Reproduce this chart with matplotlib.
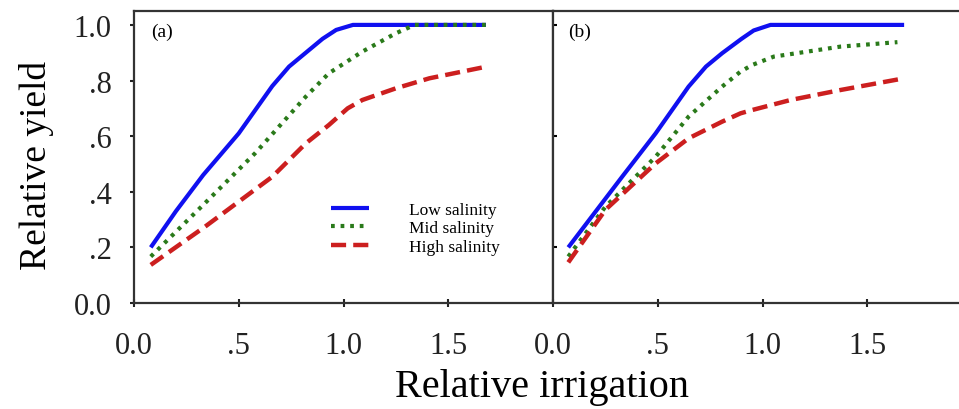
import numpy as np
import matplotlib
matplotlib.use("Agg")
import matplotlib.pyplot as plt
from matplotlib.ticker import FuncFormatter

plt.rcParams['font.family'] = ['Liberation Serif', 'DejaVu Serif']

# panel (a)
a_low_x = [0.08, 0.20, 0.33, 0.50, 0.66, 0.74, 0.82, 0.90, 0.965, 1.045, 1.68]
a_low_y = [0.20, 0.33, 0.46, 0.61, 0.78, 0.85, 0.90, 0.95, 0.982, 1.00, 1.00]
a_mid_x = [0.08, 0.34, 0.58, 0.82, 0.93, 1.09, 1.25, 1.34, 1.68]
a_mid_y = [0.167, 0.36, 0.54, 0.742, 0.826, 0.904, 0.97, 1.00, 1.00]
a_high_x = [0.08, 0.34, 0.66, 0.82, 0.93, 1.02, 1.09, 1.25, 1.41, 1.67]
a_high_y = [0.137, 0.275, 0.454, 0.574, 0.64, 0.70, 0.73, 0.772, 0.808, 0.848]

# panel (b)
b_low_x = [0.073, 0.33, 0.49, 0.647, 0.73, 0.807, 0.90, 0.958, 1.038, 1.676]
b_low_y = [0.20, 0.454, 0.61, 0.778, 0.85, 0.898, 0.95, 0.98, 1.00, 1.00]
b_mid_x = [0.073, 0.25, 0.49, 0.647, 0.807, 0.895, 0.951, 1.054, 1.214, 1.373, 1.644]
b_mid_y = [0.167, 0.346, 0.526, 0.67, 0.778, 0.832, 0.856, 0.886, 0.904, 0.922, 0.938]
b_high_x = [0.073, 0.25, 0.49, 0.647, 0.807, 0.895, 0.951, 1.134, 1.373, 1.676]
b_high_y = [0.146, 0.335, 0.502, 0.592, 0.652, 0.682, 0.694, 0.73, 0.766, 0.808]

labels = ['Low salinity', 'Mid salinity', 'High salinity']
colors = ['#1010f0', '#2a7a1a', '#cc1f1f']

W, H = 959, 410
fig = plt.figure(figsize=(W / 100, H / 100), dpi=100)

def box(l, b, r, t):
    return [l / W, 1 - b / H, (r - l) / W, (b - t) / H]

ax1 = fig.add_axes(box(134, 304, 553, 12))
ax2 = fig.add_axes(box(553, 304, 972, 12))

def yfmt(v, pos):
    s = "%.1f" % v
    if s.startswith("0.") and s != "0.0":
        s = s[1:]
    return s

def draw(ax, lx, ly, mx, my, hx, hy):
    ax.plot(lx, ly, color=colors[0], lw=3, solid_capstyle='butt',
            solid_joinstyle='round', label=labels[0])
    ax.plot(mx, my, color=colors[1], lw=3, dashes=(0.9, 1.4), label=labels[1])
    ax.plot(hx, hy, color=colors[2], lw=3.2, dashes=(3.4, 1.6),
            dash_joinstyle='round', label=labels[2])
    ax.set_xlim(0, 2.0)
    ax.set_ylim(0, 1.05)
    ax.set_xticks([0, 0.5, 1.0, 1.5])
    ax.xaxis.set_major_formatter(FuncFormatter(yfmt))
    ax.tick_params(axis='x', direction='inout', length=6, width=1.5,
                   labelsize=22, pad=17, colors='#222222')
    for s in ax.spines.values():
        s.set_linewidth(1.6)
        s.set_color('#333333')

draw(ax1, a_low_x, a_low_y, a_mid_x, a_mid_y, a_high_x, a_high_y)
draw(ax2, b_low_x, b_low_y, b_mid_x, b_mid_y, b_high_x, b_high_y)

ax1.set_yticks([0, 0.2, 0.4, 0.6, 0.8, 1.0])
ax1.yaxis.set_major_formatter(FuncFormatter(yfmt))
ax1.tick_params(axis='y', direction='out', length=3, width=1.5,
                labelsize=22, pad=13, colors='#222222')

ax2.set_yticks([0.2, 0.6, 1.0])
ax2.tick_params(axis='y', direction='in', length=3, width=1.5, labelleft=False)

ax1.text(0.04, 0.93, '(a)', transform=ax1.transAxes, fontsize=14, va='center')
ax2.text(0.035, 0.93, '(b)', transform=ax2.transAxes, fontsize=14, va='center')

ax1.legend(loc='upper left', bbox_to_anchor=(331 / W, 1 - 203 / H),
           bbox_transform=fig.transFigure, frameon=False, fontsize=12.5,
           handlelength=2.2, handletextpad=2.3, labelspacing=0.12,
           borderpad=0, borderaxespad=0)

fig.text(37 / W, 1 - 165 / H, 'Relative yield', rotation=90, fontsize=27,
         ha='center', va='center')
fig.text(542 / W, 1 - 388 / H, 'Relative irrigation', fontsize=29,
         ha='center', va='center')

fig.savefig('out.png', dpi=100)
